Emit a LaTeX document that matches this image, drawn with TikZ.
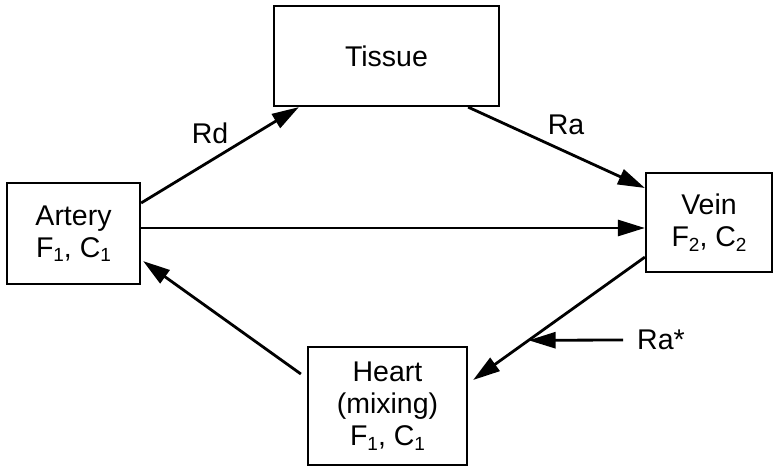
\documentclass[tikz,border=0pt]{standalone}
\usepackage{fontspec}
\setmainfont{Liberation Sans}
\usetikzlibrary{arrows.meta,calc}
\newcommand\sbs[1]{\raisebox{-4.5pt}{\fontsize{19}{19}\selectfont #1}}
\begin{document}
\begin{tikzpicture}[x=1pt,y=-1pt,
  box/.style={draw=black,line width=2.2pt,inner sep=0pt,align=center,
    font=\fontsize{28.5}{32}\selectfont},
  lbl/.style={inner sep=0pt,font=\fontsize{28.5}{32}\selectfont},
  arr/.style={line width=2.8pt,-{Triangle[length=27pt,width=16pt]}}]
\useasboundingbox (0,0) rectangle (773,468);
\node[box,minimum width=225pt,minimum height=100pt] (tissue) at (386.5,56) {Tissue};
\node[box,minimum width=133pt,minimum height=101pt] (artery) at (73.5,233.5) {Artery\\F\sbs{1}, C\sbs{1}};
\node[box,minimum width=126pt,minimum height=99pt] (vein) at (709,222.5) {Vein\\F\sbs{2}, C\sbs{2}};
\node[box,minimum width=159pt,minimum height=118pt] (heart) at (387.5,406) {Heart\\(mixing)\\F\sbs{1}, C\sbs{1}};
\node[lbl,anchor=base] (rd) at (210,143) {Rd};
\node[lbl,anchor=base] (ra) at (566,135) {Ra};
\node[lbl,anchor=base west] (rastar) at (637,349) {Ra*};
% connectors
\draw[arr] ([yshift=30.5pt]artery.east) -- ([xshift=26pt]tissue.south west);
\draw[arr] ([xshift=-32pt]tissue.south east) -- ([yshift=34.5pt]vein.west);
\coordinate (h1) at ([yshift=5.5pt]artery.east);
\draw[arr] (h1) -- (h1 -| vein.west);
\draw[arr] ([xshift=-6pt,yshift=32pt]heart.west) -- ([xshift=2pt,yshift=24pt]artery.south east);
\coordinate (v1) at ([yshift=16pt]vein.south west);
\coordinate (h2) at ([xshift=5pt,yshift=26pt]heart.east);
\draw[arr] (v1) -- (h2);
\coordinate (tip) at ($(v1)!0.677!(h2)$);
\coordinate (rs) at ([xshift=-14pt,yshift=9pt]rastar.base west);
\draw[arr] (rs) -- (tip);
\end{tikzpicture}
\end{document}
